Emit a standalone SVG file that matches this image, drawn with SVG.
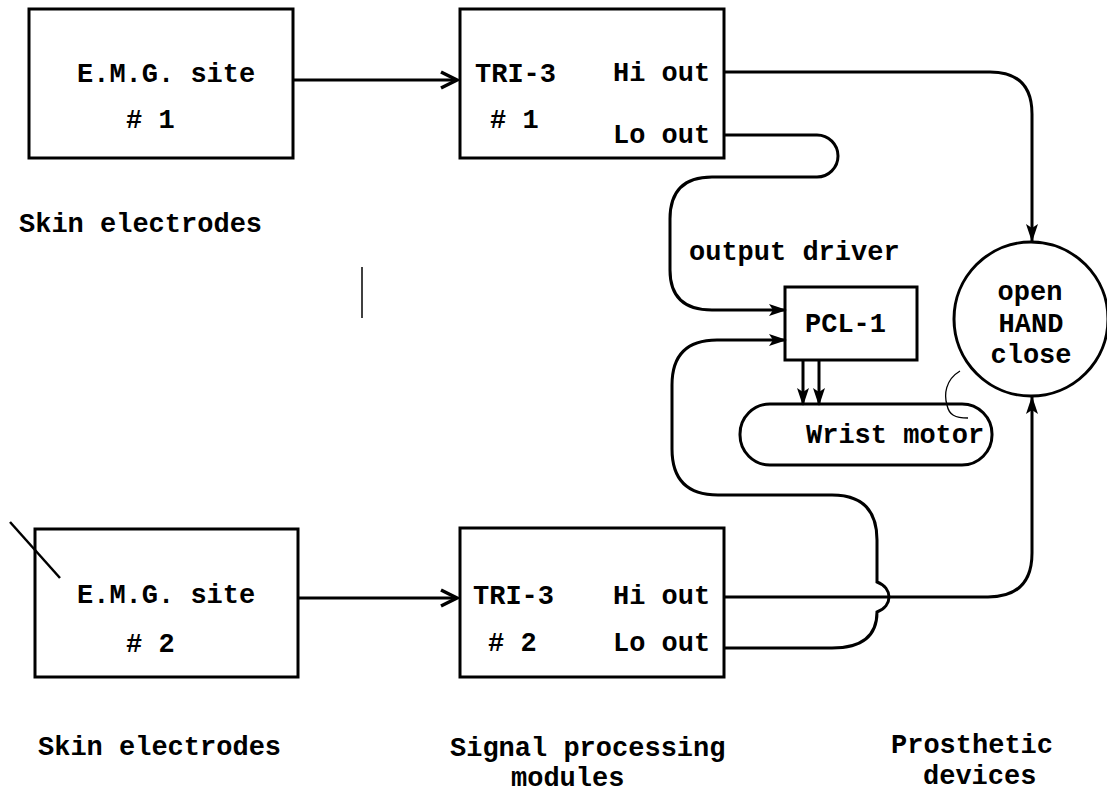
<svg xmlns="http://www.w3.org/2000/svg" width="1107" height="806" viewBox="0 0 1107 806">
<style>
.box{fill:#fff;stroke:#000;stroke-width:3}
.t{font-family:"Liberation Mono","DejaVu Sans Mono",monospace;font-weight:bold;font-size:27px;fill:#000}
.c{fill:none;stroke:#000;stroke-width:3}
.thin{fill:none;stroke:#000;stroke-width:1.3}
</style>
<defs>
<marker id="chev" markerUnits="userSpaceOnUse" markerWidth="20" markerHeight="20" refX="17" refY="9" orient="auto" overflow="visible">
<path d="M1,1 L17,9 L1,17" fill="none" stroke="#000" stroke-width="3.5" stroke-linejoin="miter"/>
</marker>
<marker id="tri" markerUnits="userSpaceOnUse" markerWidth="20" markerHeight="14" refX="17" refY="6" orient="auto" overflow="visible">
<path d="M0,0 L18,6 L0,12 L4,6 Z" fill="#000"/>
</marker>
</defs>
<rect width="1107" height="806" fill="#fff"/>

<g id="emg1">
<rect class="box" x="29" y="9" width="264" height="149"/>
<text class="t" x="77" y="82">E.M.G. site</text>
<text class="t" x="126" y="128">#<tspan> 1</tspan></text>
</g>
<g id="skin1"><text class="t" x="19" y="232">Skin electrodes</text></g>

<g id="tri1">
<rect class="box" x="460" y="9" width="264" height="149"/>
<text class="t" x="475" y="82">TRI-3</text>
<text class="t" x="490" y="128"># 1</text>
<text class="t" x="613" y="81">Hi out</text>
<text class="t" x="613" y="143">Lo out</text>
</g>

<g id="emg2">
<rect class="box" x="35" y="529" width="263" height="148"/>
<text class="t" x="77" y="603">E.M.G. site</text>
<text class="t" x="126" y="652"># 2</text>
</g>
<g id="skin2"><text class="t" x="38" y="755">Skin electrodes</text></g>

<g id="tri2">
<rect class="box" x="460" y="528" width="264" height="149"/>
<text class="t" x="473" y="604">TRI-3</text>
<text class="t" x="488" y="651"># 2</text>
<text class="t" x="613" y="604">Hi out</text>
<text class="t" x="613" y="651">Lo out</text>
</g>
<g id="spm"><text class="t" x="450" y="756">Signal processing</text><text class="t" x="511" y="786">modules</text></g>

<g id="driverlabel"><text class="t" x="689" y="260">output driver</text></g>

<g id="pcl1">
<rect class="box" x="785" y="287" width="132" height="73"/>
<text class="t" x="805" y="332">PCL-1</text>
</g>

<g id="wrist">
<rect class="box" x="740" y="404" width="252" height="61" rx="30" ry="30"/>
<text class="t" x="806" y="443">Wrist motor</text>
</g>

<g id="hand">
<circle class="box" cx="1031" cy="319" r="77"/>
<text class="t" x="1030" y="300" text-anchor="middle">open</text>
<text class="t" x="1031" y="332" text-anchor="middle">HAND</text>
<text class="t" x="1031" y="363" text-anchor="middle">close</text>
</g>
<g id="prosthetic"><text class="t" x="891" y="753">Prosthetic</text><text class="t" x="923" y="784">devices</text></g>

<g id="connectors">
<path class="c" d="M293,80 H457" marker-end="url(#chev)"/>
<path class="c" d="M298,598 H457" marker-end="url(#chev)"/>
<path class="c" d="M724,72 H990 Q1032,72 1032,114 V241" marker-end="url(#tri)"/>
<path class="c" d="M724,135 H817 A21,21 0 0 1 817,177 H712 Q670,177 670,219 V270 Q670,310 712,310 H786" marker-end="url(#tri)"/>
<path class="c" d="M724,648 H832 Q877,648 877,612 C893,606 893,588 877,582 V540 Q877,495 832,495 H718 Q672,495 672,449 V385 Q672,340 717,340 H786" marker-end="url(#tri)"/>
<path class="c" d="M724,597 H988 Q1032,597 1032,553 V397" marker-end="url(#tri)"/>
<path class="c" d="M803,360 V405" marker-end="url(#tri)"/>
<path class="c" d="M819,360 V405" marker-end="url(#tri)"/>
<path class="thin" d="M960,371 C945,380 944,395 947,405 C949,415 955,418 968,418"/>
</g>

<g id="marks">
<path d="M10,522 L60,578" stroke="#000" stroke-width="2.5"/>
<path d="M362,267 V318" stroke="#000" stroke-width="1.5"/>
</g>
</svg>
